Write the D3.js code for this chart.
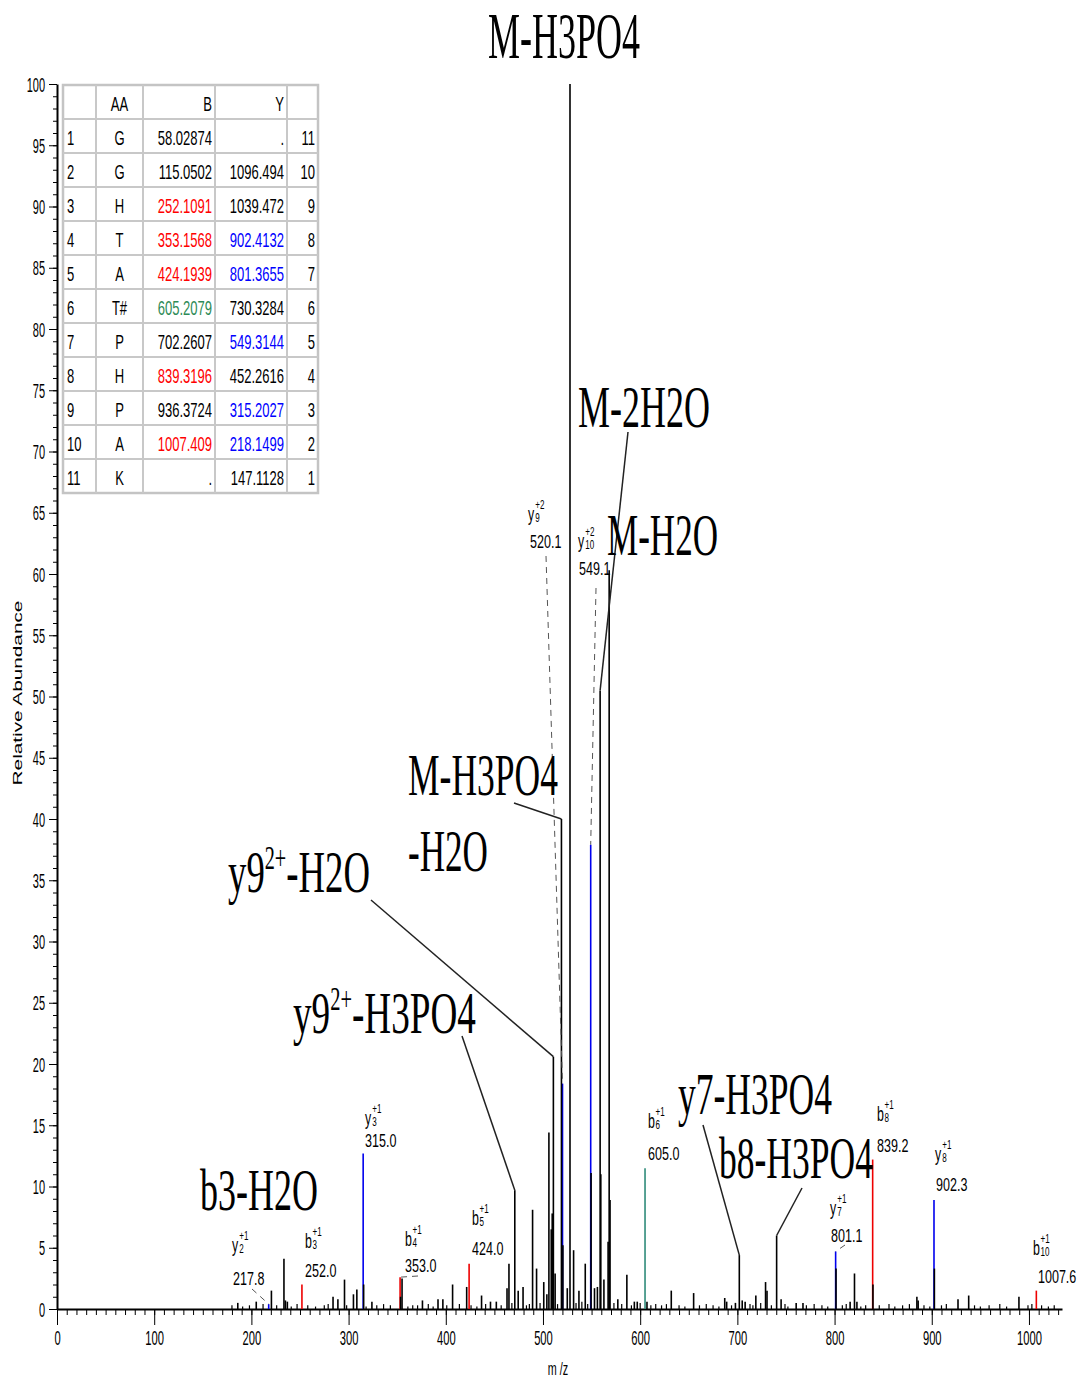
<!DOCTYPE html>
<html><head><meta charset="utf-8">
<script src="https://cdn.jsdelivr.net/npm/d3@7"></script>
<style>body{margin:0;background:#fff}svg{display:block}</style>
</head><body>
<svg id="c" width="1081" height="1382"></svg>
<script>
// ---------------- DATA ----------------
const peakMz  = [186,205,220.6,233.5,235,237,284,289,295.8,305,308.5,315.5,324,353.5,355,376,392,397,407,421.5,436.8,446,452,463,465,471,474.5,479.5,489.3,493.4,500.8,504,506.1,508.5,509.5,510.7,512.5,519.0,520.5,525,527.8,531.5,537,543.5,549.5,553,556,558.8,559.5,562.7,567,568.1,569,577,586.3,594,597,607,632,655,687,689,698,702,705,708,719,729,730.5,740.4,745,760.5,767.5,801.5,816,820.5,823,839.5,884.7,886,902.7,927,938,989.7];
const peakInt = [0.5,0.6,1.5,4.1,0.7,0.6,1.0,0.8,2.4,1.2,1.6,2.0,0.6,1.0,2.5,0.7,0.8,0.8,2.0,1.8,1.1,0.6,0.6,1.7,3.7,9.7,1.5,1.8,8.1,3.3,2.2,1.2,14.4,6.5,7.8,20.6,2.9,40.0,5.2,1.7,100,4.8,1.5,3.7,11.1,1.7,1.8,50.5,11.0,2.4,5.5,60.3,8.9,0.8,2.8,0.6,0.6,0.6,1.5,1.3,0.9,0.6,0.5,4.4,0.7,0.6,1.1,2.2,1.5,6.0,0.8,0.5,0.5,3.3,0.6,2.9,0.6,2.0,1.0,0.7,3.3,0.8,1.1,1.0];
const noiseMz  = [180,191,198,212,226,241,247,258,266,275,279,298,318,329,336,343,361,366,371,382,387,401,414,426,432,441,457,468,483,486,497,515,534,540,546,573,581,591,600,611,616,622,627,640,646,661,668,675,681,694,713,716,724,735,749,752,771,779,787,793,808,812,827,832,846,856,862,870,877,892,898,910,915,944,950,959,970,977,999,1003,1013,1020,1026];
const noiseInt = [0.3,0.2,0.3,0.4,0.3,0.2,0.4,0.3,0.2,0.3,0.4,0.3,0.2,0.3,0.4,0.3,0.2,0.3,0.3,0.4,0.2,0.3,0.4,0.3,0.2,0.4,0.3,0.5,0.3,0.4,0.5,0.4,0.5,0.6,0.4,0.5,0.4,0.3,0.5,0.3,0.4,0.3,0.4,0.3,0.2,0.3,0.4,0.3,0.2,0.3,0.4,0.3,0.5,0.3,0.4,0.2,0.3,0.4,0.3,0.2,0.3,0.4,0.2,0.3,0.3,0.4,0.2,0.3,0.4,0.3,0.2,0.3,0.4,0.3,0.2,0.3,0.4,0.2,0.3,0.4,0.3,0.2,0.3];

// annotated fragment ions
const ionMz     = [217.8,252.0,315.0,353.0,424.0,520.1,549.1,605.0,801.1,839.2,902.3,1007.6];
const ionInt    = [0.4,2.0,12.7,2.6,3.7,18.4,37.9,11.5,4.7,12.2,8.9,1.5];
const ionSeries = ["y","b","y","b","b","y","y","b*","y","b","y","b"];
const ionNum    = ["2","3","3","4","5","9","10","6","7","8","8","10"];
const ionCharge = ["+1","+1","+1","+1","+1","+2","+2","+1","+1","+1","+1","+1"];
const ionText   = ["217.8","252.0","315.0","353.0","424.0","520.1","549.1","605.0","801.1","839.2","902.3","1007.6"];

// neutral-loss annotations
const fragText = [["M-H3PO4"],["M-2H2O"],["M-H2O"],["M-H3PO4","-H2O"],["y9","2+","-H2O"],["y9","2+","-H3PO4"],["b3-H2O"],["y7-H3PO4"],["b8-H3PO4"]];
const fragMz   = [527.8,558.8,568.1,519.0,510.7,471.0,233.5,702.0,740.4];
const fragInt  = [100,50.5,60.3,40.0,20.6,9.7,4.1,4.4,6.0];

// fragment table
const tableHead = ["","AA","B","Y",""];
const tableIdx  = ["1","2","3","4","5","6","7","8","9","10","11"];
const tableAA   = ["G","G","H","T","A","T#","P","H","P","A","K"];
const tableB    = ["58.02874","115.0502","252.1091","353.1568","424.1939","605.2079","702.2607","839.3196","936.3724","1007.409","."];
const tableY    = [".","1096.494","1039.472","902.4132","801.3655","730.3284","549.3144","452.2616","315.2027","218.1499","147.1128"];
const tableBhit = ["","","b","b","b","b*","","b","","b",""];
const tableYhit = ["","","","y","y","","y","","y","y",""];
const tableRev  = ["11","10","9","8","7","6","5","4","3","2","1"];

const xTicks = d3.range(0, 1001, 100);
const yTicks = d3.range(0, 101, 5);

// ---------------- LAYOUT / STYLE ----------------
const colorOf = {"b":"#ee0000","y":"#0000ee","b*":"#2e8b7a","":"#000"};
const textColorOf = {"b":"#ff0000","y":"#0000ff","b*":"#2e8b57","":"#000"};
const SANS = '"Liberation Sans", Arial, sans-serif';
const SERIF = '"Liberation Serif", "Times New Roman", serif';

const svg = d3.select("#c");
const x = d3.scaleLinear().domain([0, 1034]).range([57, 1062]);
const y = d3.scaleLinear().domain([0, 100]).range([1309, 84]);

function stext(parent, px, py, str, o) {
  const g = parent.append("g").attr("transform", `translate(${px},${py})`);
  const t = g.append("text").attr("font-family", o.family || SANS).attr("font-size", o.size)
    .attr("fill", o.fill || "#000").attr("text-anchor", o.anchor || "start").text(str);
  if (o.width) {
    const w = t.node().getBBox().width;
    t.attr("transform", `scale(${o.width / w},1)`);
  } else if (o.sx) t.attr("transform", `scale(${o.sx},1)`);
  return g;
}

// ---------------- AXES ----------------
const yMinor = svg.append("g").attr("transform", "translate(57,0)")
  .call(d3.axisLeft(y).tickValues(d3.range(0, 101, 1)).tickSize(4).tickFormat(""));
yMinor.select(".domain").remove();
const yMajor = svg.append("g").attr("transform", "translate(57,0)")
  .call(d3.axisLeft(y).tickValues(yTicks).tickSize(8).tickSizeOuter(0).tickPadding(4).tickFormat(d3.format("d")));
yMajor.select(".domain").attr("stroke-width", 2);
yMajor.selectAll("text").attr("font-family", SANS).attr("font-size", 20).attr("dy", "0.36em")
  .each(function () { const t = d3.select(this); const xx = +t.attr("x");
    t.attr("x", 0).attr("transform", `translate(${xx},0) scale(0.55,1)`); });

const xMinor = svg.append("g").attr("transform", "translate(0,1309)")
  .call(d3.axisBottom(x).tickValues(d3.range(0, 1031, 10)).tickSize(6).tickFormat(""));
xMinor.select(".domain").remove();
const xMajor = svg.append("g").attr("transform", "translate(0,1309)")
  .call(d3.axisBottom(x).tickValues(xTicks).tickSize(16).tickSizeOuter(0).tickPadding(6).tickFormat(d3.format("d")));
xMajor.select(".domain").attr("stroke-width", 2);
xMajor.selectAll("text").attr("font-family", SANS).attr("font-size", 20)
  .each(function () { d3.select(this).attr("transform", "scale(0.56,1)"); });

// axis titles
const yt = svg.append("g").attr("transform", "translate(22,693) rotate(-90)");
yt.append("text").attr("font-family", SANS).attr("font-size", 13).attr("text-anchor", "middle")
  .attr("transform", "scale(1.6,1)").text("Relative Abundance");
stext(svg, 558, 1375, "m /z", {size: 18, sx: 0.6, anchor: "middle"});

// ---------------- PEAKS ----------------
const peaks = svg.append("g");
peaks.selectAll("line.n").data(noiseMz).join("line").attr("class", "n")
  .attr("x1", d => x(d)).attr("x2", d => x(d)).attr("y1", y(0))
  .attr("y2", (d, i) => y(noiseInt[i])).attr("stroke", "#000").attr("stroke-width", 1.2);
peaks.selectAll("line.ion").data(ionMz).join("line").attr("class", "ion")
  .attr("x1", d => x(d)).attr("x2", d => x(d)).attr("y1", y(0))
  .attr("y2", (d, i) => y(ionInt[i])).attr("stroke", (d, i) => colorOf[ionSeries[i]]).attr("stroke-width", 1.6);
peaks.selectAll("line.p").data(peakMz).join("line").attr("class", "p")
  .attr("x1", d => x(d)).attr("x2", d => x(d)).attr("y1", y(0))
  .attr("y2", (d, i) => y(peakInt[i])).attr("stroke", "#000").attr("stroke-width", 1.6);

// ---------------- ION LABELS ----------------
// [nameX, nameBaseline, valueX, valueBaseline, dashed connector start]
const ionLayout = [
  [232,1252,233,1285,[252,1289]],
  [305,1248,305,1277,null],
  [365,1125,365,1147,null],
  [405,1246,405,1272,[418,1276]],
  [472,1225,472,1255,null],
  [528,521,530,548,[546,556]],
  [578,548,579,575,[596,588]],
  [648,1128,648,1160,null],
  [830,1215,831,1242,[845,1245]],
  [877,1121,877,1152,null],
  [935,1161,936,1191,null],
  [1033,1255,1038,1283,null]
];
const lab = svg.append("g");
ionMz.forEach((mz, i) => {
  const L = ionLayout[i];
  const g = lab.append("g").attr("transform", `translate(${L[0]},${L[1]}) scale(0.62,1)`);
  const letter = g.append("text").attr("font-family", SANS).attr("font-size", 20).text(ionSeries[i][0]);
  const bw = letter.node().getBBox().width;
  g.append("text").attr("font-family", SANS).attr("font-size", 13).attr("x", bw + 1).attr("y", 1).text(ionNum[i]);
  g.append("text").attr("font-family", SANS).attr("font-size", 13).attr("x", bw + 1).attr("y", -12).text(ionCharge[i]);
  stext(lab, L[2], L[3], ionText[i], {size: 19, sx: 0.66});
  if (L[4]) {
    lab.append("line").attr("x1", L[4][0]).attr("y1", L[4][1]).attr("x2", x(mz)).attr("y2", y(ionInt[i]))
      .attr("stroke", "#555").attr("stroke-width", 1).attr("stroke-dasharray", "6,5");
  }
});

// ---------------- NEUTRAL LOSS LABELS ----------------
const fragLayout = [
  {lines: [[488, 58, 152]], size: 65, lead: null},
  {lines: [[578, 427, 132]], size: 60, lead: [628, 432]},
  {lines: [[607, 555, 111]], size: 60, lead: null},
  {lines: [[408, 795, 150], [408, 871, 80]], size: 60, lead: [514, 803]},
  {lines: [[228, 892, 142]], size: 60, lead: [371, 900]},
  {lines: [[293, 1033, 183]], size: 60, lead: [462, 1036]},
  {lines: [[200, 1210, 118]], size: 60, lead: null},
  {lines: [[678, 1114, 154]], size: 60, lead: [703, 1125]},
  {lines: [[719, 1178, 154]], size: 60, lead: [802, 1188]}
];
const fl = svg.append("g");
fragText.forEach((parts, i) => {
  const L = fragLayout[i];
  if (parts.length === 3) {
    const [lx, ly, lw] = L.lines[0];
    const g = fl.append("g").attr("transform", `translate(${lx},${ly})`);
    const t = g.append("text").attr("font-family", SERIF).attr("font-size", L.size);
    t.append("tspan").text(parts[0]);
    t.append("tspan").attr("font-size", L.size * 0.55).attr("dy", -L.size * 0.38).text(parts[1]);
    t.append("tspan").attr("dy", L.size * 0.38).text(parts[2]);
    const w = t.node().getBBox().width;
    t.attr("transform", `scale(${lw / w},1)`);
  } else {
    parts.forEach((p, k) => {
      const [lx, ly, lw] = L.lines[k];
      stext(fl, lx, ly, p, {size: L.size, family: SERIF, width: lw});
    });
  }
  if (L.lead) {
    fl.append("line").attr("x1", L.lead[0]).attr("y1", L.lead[1])
      .attr("x2", x(fragMz[i])).attr("y2", y(fragInt[i]))
      .attr("stroke", "#222").attr("stroke-width", 1.5);
  }
});

// ---------------- TABLE ----------------
const colX = [63, 96, 143, 215, 287, 318];
const rowTop = 85, rowH = 34, nRows = tableAA.length + 1;
const tb = svg.append("g");
tb.append("rect").attr("x", colX[0]).attr("y", rowTop).attr("width", colX[5] - colX[0])
  .attr("height", rowH * nRows).attr("fill", "#fff").attr("stroke", "#c4c4c4").attr("stroke-width", 2.5);
colX.slice(1, 5).forEach(cx => tb.append("line").attr("x1", cx).attr("x2", cx).attr("y1", rowTop)
  .attr("y2", rowTop + rowH * nRows).attr("stroke", "#c8c8c8").attr("stroke-width", 2));
d3.range(1, nRows).forEach(r => tb.append("line").attr("x1", colX[0]).attr("x2", colX[5])
  .attr("y1", rowTop + r * rowH).attr("y2", rowTop + r * rowH).attr("stroke", "#c8c8c8").attr("stroke-width", 2));

function cell(col, row, str, fill) {
  const base = rowTop + (row + 1) * rowH - 8;
  const opts = {size: 21, sx: 0.62, fill: fill || "#000"};
  if (col === 0) { opts.anchor = "start"; stext(tb, colX[0] + 4, base, str, opts); }
  else if (col === 1) { opts.anchor = "middle"; stext(tb, (colX[1] + colX[2]) / 2, base, str, opts); }
  else { opts.anchor = "end"; stext(tb, colX[col + 1] - 3, base, str, opts); }
}
tableHead.forEach((h, c) => { if (h) cell(c, 0, h); });
tableAA.forEach((aa, i) => {
  cell(0, i + 1, tableIdx[i]);
  cell(1, i + 1, aa);
  cell(2, i + 1, tableB[i], textColorOf[tableBhit[i]]);
  cell(3, i + 1, tableY[i], textColorOf[tableYhit[i]]);
  cell(4, i + 1, tableRev[i]);
});
</script>
</body></html>
